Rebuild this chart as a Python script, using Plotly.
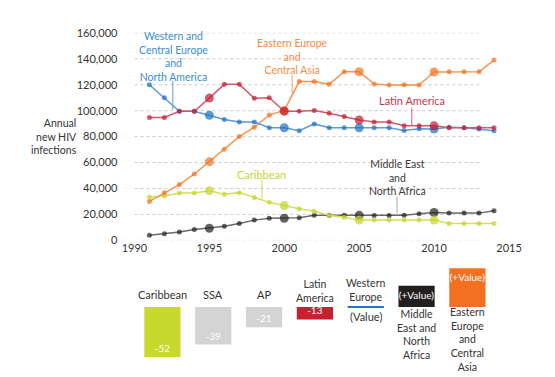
import plotly.graph_objects as go

W, H = 555, 377
def px(x): return x / W
def py(y): return (H - y) / H

FONT = "Lato"
TXT = "#333333"

# ---------------- data ----------------
years = list(range(1991, 2015))
western_europe = [120000, 110000, 99500, 99500, 96500, 93200, 91300, 91300, 86800, 86800, 84500, 89800,
                  86800, 86800, 86800, 86800, 86800, 84800, 86000, 85800, 87200, 86800, 85800, 84500]
latin_america = [94700, 94700, 99500, 99500, 109700, 120300, 120300, 109500, 110000, 99500, 99500, 100200,
                 98000, 95500, 92800, 91300, 91300, 88300, 88300, 88300, 86800, 86800, 86800, 86800]
eastern_europe = [30000, 36800, 43000, 51200, 60700, 70300, 80000, 87300, 96600, 100200, 122400, 122400,
                  120300, 130000, 130000, 120500, 119800, 120000, 119800, 129800, 130000, 130000, 130000, 139000]
caribbean = [33300, 34200, 36500, 36500, 38300, 35500, 36800, 33000, 29300, 26800, 24300, 22500,
             19300, 17800, 15600, 15600, 15600, 15600, 15600, 15600, 13000, 13000, 13000, 13000]
mena = [4000, 5000, 6500, 8300, 9300, 10800, 13000, 15600, 17000, 17000, 17500, 19300,
        19300, 19400, 19300, 19100, 19100, 19300, 20500, 21500, 21000, 21000, 21000, 22800]
highlight_years = [1995, 2000, 2005, 2010]

x_ticks = [1990, 1995, 2000, 2005, 2010, 2015]
y_ticks = [0, 20000, 40000, 60000, 80000, 100000, 120000, 140000, 160000]

change_categories = ["Caribbean", "SSA", "AP", "Latin America", "Western Europe",
                     "Middle East and North Africa", "Eastern Europe and Central Asia"]
change_values = [-52, -39, -21, -13, 0, 22, 40]
change_text = ["-52", "-39", "-21", "-13", "", "(+Value)", "(+Value)"]

# ---------------- figure ----------------
fig = go.Figure()
sizes = [9 if y in highlight_years else 5 for y in years]

series = [
    (mena, "#6a6a6a", "#231f20"),
    (caribbean, "#d3df5c", "#c5d62b"),
    (eastern_europe, "#f5954f", "#f37021"),
    (western_europe, "#5b9dd6", "#1f6fbf"),
    (latin_america, "#cf5a6c", "#c41a33"),
]
for vals, lc, mc in series:
    fig.add_trace(go.Scatter(x=years, y=vals, mode="lines+markers",
                             line=dict(color=lc, width=1.5),
                             marker=dict(color=mc, size=sizes, line=dict(width=0)),
                             cliponaxis=False, showlegend=False, hoverinfo="skip"))

bar_colors = ["#c9d82c", "#d4d4d4", "#d4d4d4", "#c8202f", "#ffffff", "#231f20", "#f37021"]
fig.add_trace(go.Bar(x=list(range(len(change_values))), y=change_values, xaxis="x2", yaxis="y2",
                     width=0.7125, marker=dict(color=bar_colors, line=dict(width=0)),
                     text=change_text, textposition="inside", insidetextanchor="end",
                     constraintext="none", textangle=0,
                     textfont=dict(color="white", size=10, family=FONT),
                     showlegend=False, hoverinfo="skip"))

shapes = []
for v in y_ticks:
    shapes.append(dict(type="line", xref="x", yref="y", x0=1990, x1=2013.1, y0=v, y1=v,
                       line=dict(color="#c9c9c9", width=1, dash="dot"), layer="below"))

# leader lines
for xp, y0, y1, col in [(159.3, 68, 98, "#5a9fd8"), (284.5, 62, 84, "#f5a266"),
                        (410, 96, 114, "#d06070"), (252.7, 171, 191, "#cfdc5a"),
                        (394.5, 188, 206, "#aaaaaa")]:
    shapes.append(dict(type="line", xref="paper", yref="paper", x0=px(xp), x1=px(xp),
                       y0=py(y0), y1=py(y1), line=dict(color=col, width=1)))

# western europe line in bottom panel
shapes.append(dict(type="line", xref="x2", yref="y2", x0=4 - 0.356, x1=4 + 0.356, y0=0, y1=0,
                   line=dict(color="#1f78c8", width=2)))

annotations = []
def ann(lines, x, y, color, size=10.5, xanchor="center", xref="paper", align="center"):
    annotations.append(dict(text="<br>".join(lines), x=(px(x) if xref == "paper" else x), y=py(y),
                            xref=xref, yref="paper", xanchor=xanchor, yanchor="middle", align=align,
                            showarrow=False, font=dict(family=FONT, size=size, color=color)))

ann(["Western and", "Central Europe", "and", "North America"], 160, 42.6, "#3b8ed0")
ann(["Eastern Europe", "and", "Central Asia"], 285, 43.2, "#f68b3f")
ann(["Latin America"], 410, 89, "#c23b4e", size=11)
ann(["Caribbean"], 252.7, 165.7, "#c5d630", size=11)
ann(["Middle East", "and", "North Africa"], 395, 168, "#3a3a3a")
ann(["Annual", "new HIV", "infections"], 61, 126, TXT, xanchor="right", align="right")

# bottom panel labels
ann(["Caribbean"], 0, 289.3, TXT, size=11, xref="x2")
ann(["SSA"], 1, 289.3, TXT, size=11, xref="x2")
ann(["AP"], 2, 289.3, TXT, size=11, xref="x2")
ann(["Latin", "America"], 3, 285.5, TXT, xref="x2")
ann(["Western", "Europe"], 4, 285, TXT, xref="x2")
ann(["(Value)"], 4, 312.7, TXT, size=11, xref="x2")
ann(["Middle", "East and", "North", "Africa"], 5, 330.5, TXT, xref="x2")
ann(["Eastern", "Europe", "and", "Central", "Asia"], 6, 336.5, TXT, xref="x2")

fig.update_layout(
    width=W, height=H, margin=dict(l=0, r=0, t=0, b=0),
    paper_bgcolor="white", plot_bgcolor="rgba(0,0,0,0)",
    font=dict(family=FONT, size=11, color=TXT),
    xaxis=dict(domain=[px(119), px(512)], range=[1990, 2015], tickvals=x_ticks,
               showgrid=False, zeroline=False, showline=False, ticks="",
               tickfont=dict(size=11, color=TXT)),
    yaxis=dict(domain=[py(233.4), py(18.5)], range=[0, 160000], tickvals=y_ticks,
               tickformat=",", showgrid=False, zeroline=False, showline=False, ticks="",
               ticklabelstandoff=16, tickfont=dict(size=11, color=TXT)),
    xaxis2=dict(domain=[px(121.7), px(495)], range=[-0.5, 6.5], visible=False, anchor="y2"),
    yaxis2=dict(domain=[0, py(250)], range=[-74.7, 52.3], visible=False, anchor="x2"),
    shapes=shapes, annotations=annotations,
)

fig.write_html("out.html")
